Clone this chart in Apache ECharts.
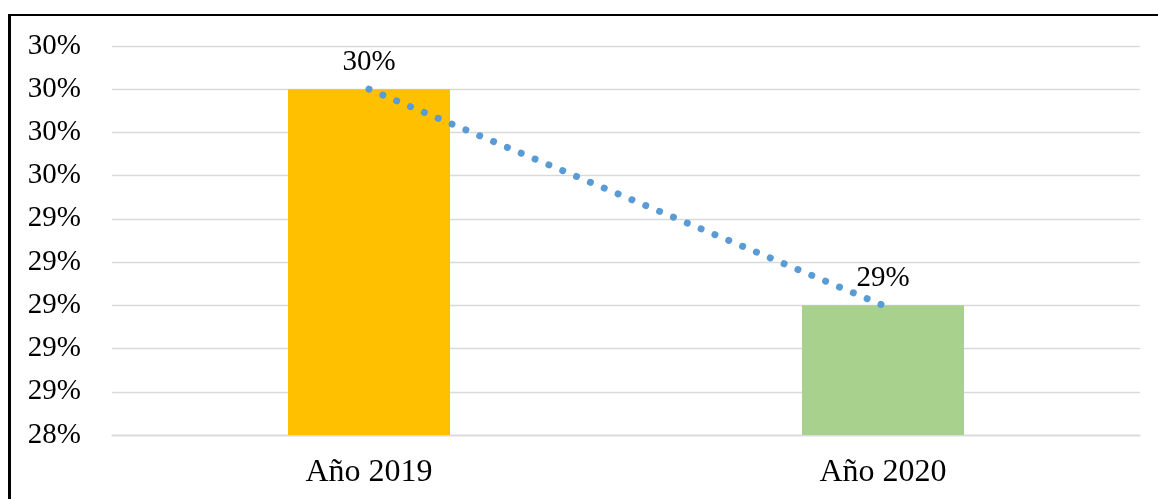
<!DOCTYPE html>
<html>
<head>
<meta charset="utf-8">
<script src="https://cdn.jsdelivr.net/npm/echarts@6/dist/echarts.min.js"></script>
<style>
html,body{margin:0;padding:0;background:#fff;}
#frame{position:absolute;left:8px;top:14px;width:1170px;height:510px;border-top:2.5px solid #000;border-left:3px solid #000;box-sizing:border-box;}
#chart{position:absolute;left:0;top:0;width:1158px;height:499px;}
</style>
</head>
<body>
<div id="frame"></div>
<div id="chart"></div>
<script>
const categories = ['Año 2019', 'Año 2020'];
const values = [30.0, 29.0];          // percent
const barColors = ['#FFC000', '#A9D18E'];
const axisMin = 28.4, axisMax = 30.2, axisStep = 0.2;

const chart = echarts.init(document.getElementById('chart'));
const font = '"Liberation Serif", "Times New Roman", serif';
chart.setOption({
  animation: false,
  grid: { left: 112, right: 18, top: 46, bottom: 64 },
  xAxis: {
    type: 'category',
    data: categories,
    axisLine: { lineStyle: { color: '#D9D9D9', width: 1.3 } },
    axisTick: { show: false },
    axisLabel: { color: '#000', fontFamily: font, fontSize: 32, margin: 22 }
  },
  yAxis: {
    type: 'value',
    min: axisMin, max: axisMax, interval: axisStep,
    axisLine: { show: false },
    axisTick: { show: false },
    splitLine: { lineStyle: { color: '#D9D9D9', width: 1.3 } },
    axisLabel: {
      color: '#000', fontFamily: font, fontSize: 29, margin: 31,
      formatter: v => Math.round(v) + '%'
    }
  },
  series: [
    {
      type: 'bar',
      barWidth: 162,
      data: values.map((v, i) => ({ value: v, itemStyle: { color: barColors[i] } })),
      label: {
        show: true, position: 'top', distance: 12,
        color: '#000', fontFamily: font, fontSize: 29,
        formatter: p => Math.round(p.value) + '%'
      },
      z: 2
    },
    {
      type: 'line',
      data: values,
      symbol: 'none',
      lineStyle: { color: '#5B9BD5', width: 7, type: [0.01, 15], cap: 'round' },
      z: 3,
      silent: true
    }
  ]
});
</script>
</body>
</html>
